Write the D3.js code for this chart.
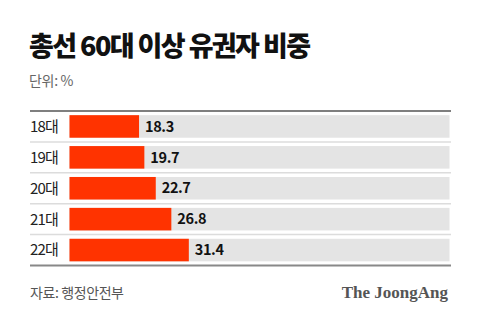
<!DOCTYPE html>
<html>
<head>
<meta charset="utf-8">
<script src="https://cdn.jsdelivr.net/npm/d3@7"></script>
<style>
  html, body { margin: 0; padding: 0; background: #fff; }
  svg { display: block; }
</style>
</head>
<body>
<svg id="chart" width="480" height="324"></svg>
<script>
// Share of voters aged 60+ in each general election (%)
const categories = ["18대", "19대", "20대", "21대", "22대"];
const values = [18.3, 19.7, 22.7, 26.8, 31.4];
const title = "총선 60대 이상 유권자 비중";
const unitLabel = "단위: %";
const sourceLabel = "자료: 행정안전부";
const brand = "The JoongAng";

(function draw() {
  const svg = d3.select("#chart");
  const KR = "'Noto Sans CJK KR', 'Noto Sans', sans-serif";

  const ruleLeft = 30, ruleRight = 451;
  const barX0 = 69.5, barX1 = 449.5;
  const plotTop = 111, plotBottom = 265.5;

  const x = d3.scaleLinear().domain([0, 100]).range([barX0, barX1]);
  const y = d3.scaleBand()
    .domain(categories)
    .range([plotTop, plotBottom])
    .paddingInner(0.27)
    .paddingOuter(0.135);

  // Title and unit
  svg.append("text")
    .attr("x", 29).attr("y", 56)
    .attr("font-family", KR).attr("font-weight", 900)
    .attr("font-size", 27).attr("letter-spacing", -1.6)
    .attr("fill", "#111")
    .text(title);

  svg.append("text")
    .attr("x", 29).attr("y", 86)
    .attr("font-family", KR).attr("font-size", 14).attr("letter-spacing", -0.3)
    .attr("fill", "#666")
    .text(unitLabel);

  // Row separators
  const step = y.step();
  const seps = d3.range(1, categories.length).map(i => plotTop + i * step);
  svg.selectAll("line.sep").data(seps).join("line")
    .attr("class", "sep")
    .attr("x1", ruleLeft).attr("x2", ruleRight)
    .attr("y1", d => d).attr("y2", d => d)
    .attr("stroke", "#dcdcdc").attr("stroke-width", 1.5);

  // Background tracks
  svg.selectAll("rect.track").data(categories).join("rect")
    .attr("class", "track")
    .attr("x", x(0)).attr("width", x(100) - x(0))
    .attr("y", d => y(d)).attr("height", y.bandwidth())
    .attr("fill", "#e4e4e4");

  // Value bars
  svg.selectAll("rect.bar").data(values).join("rect")
    .attr("class", "bar")
    .attr("x", x(0))
    .attr("width", d => x(d) - x(0))
    .attr("y", (d, i) => y(categories[i]))
    .attr("height", y.bandwidth())
    .attr("fill", "#ff3300");

  // Category labels
  svg.selectAll("text.cat").data(categories).join("text")
    .attr("class", "cat")
    .attr("x", ruleLeft).attr("y", d => y(d) + y.bandwidth() / 2)
    .attr("dy", "0.36em")
    .attr("font-family", KR).attr("font-size", 15).attr("letter-spacing", -0.8)
    .attr("fill", "#222")
    .text(d => d);

  // Value labels
  svg.selectAll("text.val").data(values).join("text")
    .attr("class", "val")
    .attr("x", d => x(d) + 6)
    .attr("y", (d, i) => y(categories[i]) + y.bandwidth() / 2)
    .attr("dy", "0.36em")
    .attr("font-family", KR).attr("font-weight", 700).attr("font-size", 14.5)
    .attr("letter-spacing", -0.4)
    .attr("fill", "#111")
    .text(d => d.toFixed(1));

  // Top and bottom rules
  svg.append("line")
    .attr("x1", ruleLeft).attr("x2", ruleRight).attr("y1", plotTop).attr("y2", plotTop)
    .attr("stroke", "#555").attr("stroke-width", 1.5);
  svg.append("line")
    .attr("x1", ruleLeft).attr("x2", ruleRight).attr("y1", plotBottom).attr("y2", plotBottom)
    .attr("stroke", "#888").attr("stroke-width", 2);

  // Footer
  svg.append("text")
    .attr("x", 30).attr("y", 298)
    .attr("font-family", KR).attr("font-size", 14).attr("letter-spacing", -0.4)
    .attr("fill", "#555")
    .text(sourceLabel);

  svg.append("text")
    .attr("x", 448).attr("y", 298)
    .attr("text-anchor", "end")
    .attr("font-family", "'Liberation Serif', 'DejaVu Serif', serif")
    .attr("font-weight", 700).attr("font-size", 17)
    .attr("fill", "#555")
    .text(brand);
})();
</script>
</body>
</html>
